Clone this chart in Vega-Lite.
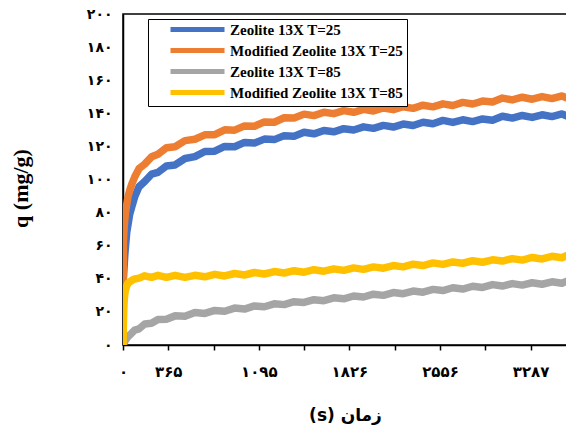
{
  "$schema": "https://vega.github.io/schema/vega-lite/v6.json",
  "width": 444,
  "height": 331,
  "autosize": "none",
  "padding": {"left": 123, "top": 14, "right": 0, "bottom": 80},
  "background": "white",
  "config": {"view": {"stroke": "black", "strokeWidth": 1.5}},
  "data": {"values": [
    {"t": 0, "b": 0, "o": 0, "g": 0, "y": 0},
    {"t": 3, "b": 40, "o": 62, "g": 0.5, "y": 12},
    {"t": 6, "b": 43.8, "o": 66.3, "g": 0.9, "y": 21.4},
    {"t": 10, "b": 48.8, "o": 72, "g": 1.5, "y": 27.1},
    {"t": 15, "b": 55, "o": 76, "g": 2.2, "y": 31.2},
    {"t": 20, "b": 59.3, "o": 80, "g": 3, "y": 33.1},
    {"t": 30, "b": 68, "o": 84.8, "g": 4, "y": 35.8},
    {"t": 40, "b": 72.6, "o": 89.5, "g": 5, "y": 37.3},
    {"t": 54, "b": 79, "o": 93.4, "g": 6, "y": 38.1},
    {"t": 70, "b": 83.2, "o": 97, "g": 7.2, "y": 39},
    {"t": 94, "b": 89.5, "o": 101.5, "g": 9, "y": 39.9},
    {"t": 130, "b": 95.7, "o": 106.7, "g": 9.8, "y": 40.4},
    {"t": 175, "b": 98.8, "o": 109.3, "g": 12.7, "y": 41.8},
    {"t": 230, "b": 103.2, "o": 113.7, "g": 13.1, "y": 40.9},
    {"t": 282, "b": 104.3, "o": 115.3, "g": 15.4, "y": 42.1},
    {"t": 350, "b": 108.2, "o": 119.2, "g": 15.6, "y": 40.9},
    {"t": 420, "b": 108.8, "o": 119.8, "g": 17.6, "y": 42.1},
    {"t": 500, "b": 112.7, "o": 123.5, "g": 17.4, "y": 40.9},
    {"t": 580, "b": 113.8, "o": 124.3, "g": 19.6, "y": 42.1},
    {"t": 660, "b": 116.9, "o": 127.0, "g": 19.1, "y": 41.2},
    {"t": 740, "b": 117.1, "o": 127.1, "g": 20.9, "y": 42.7},
    {"t": 820, "b": 120.0, "o": 130.0, "g": 20.4, "y": 41.7},
    {"t": 900, "b": 119.8, "o": 129.8, "g": 22.3, "y": 43.2},
    {"t": 980, "b": 122.4, "o": 132.4, "g": 21.7, "y": 42.3},
    {"t": 1060, "b": 122.0, "o": 132.2, "g": 23.6, "y": 43.8},
    {"t": 1140, "b": 124.4, "o": 134.8, "g": 23.1, "y": 42.9},
    {"t": 1220, "b": 124.1, "o": 134.6, "g": 24.9, "y": 44.4},
    {"t": 1300, "b": 126.5, "o": 137.3, "g": 24.4, "y": 43.5},
    {"t": 1380, "b": 126.2, "o": 137.1, "g": 26.2, "y": 44.9},
    {"t": 1460, "b": 128.5, "o": 139.5, "g": 25.7, "y": 44.0},
    {"t": 1540, "b": 127.6, "o": 138.6, "g": 27.4, "y": 45.5},
    {"t": 1620, "b": 129.6, "o": 140.6, "g": 26.8, "y": 44.6},
    {"t": 1700, "b": 128.8, "o": 139.8, "g": 28.5, "y": 46.0},
    {"t": 1780, "b": 130.7, "o": 141.6, "g": 27.9, "y": 45.1},
    {"t": 1860, "b": 129.9, "o": 140.6, "g": 29.6, "y": 46.6},
    {"t": 1940, "b": 131.8, "o": 142.4, "g": 29.0, "y": 45.7},
    {"t": 2020, "b": 130.9, "o": 141.4, "g": 30.7, "y": 47.2},
    {"t": 2100, "b": 132.7, "o": 143.2, "g": 30.0, "y": 46.4},
    {"t": 2180, "b": 131.7, "o": 142.2, "g": 31.7, "y": 48.0},
    {"t": 2260, "b": 133.5, "o": 144.0, "g": 31.0, "y": 47.2},
    {"t": 2340, "b": 132.6, "o": 143.0, "g": 32.6, "y": 48.8},
    {"t": 2420, "b": 134.6, "o": 144.9, "g": 31.9, "y": 48.0},
    {"t": 2500, "b": 133.7, "o": 143.9, "g": 33.6, "y": 49.6},
    {"t": 2580, "b": 135.7, "o": 145.7, "g": 32.9, "y": 48.7},
    {"t": 2660, "b": 134.5, "o": 144.7, "g": 34.6, "y": 50.2},
    {"t": 2740, "b": 136.1, "o": 146.6, "g": 33.8, "y": 49.4},
    {"t": 2820, "b": 135.0, "o": 145.6, "g": 35.5, "y": 50.9},
    {"t": 2900, "b": 136.6, "o": 147.4, "g": 34.8, "y": 50.0},
    {"t": 2980, "b": 135.8, "o": 146.8, "g": 36.5, "y": 51.5},
    {"t": 3060, "b": 138.2, "o": 149.2, "g": 35.6, "y": 50.7},
    {"t": 3140, "b": 137.1, "o": 148.1, "g": 37.1, "y": 52.2},
    {"t": 3220, "b": 138.7, "o": 149.7, "g": 36.2, "y": 51.3},
    {"t": 3300, "b": 137.5, "o": 148.5, "g": 37.6, "y": 52.9},
    {"t": 3380, "b": 139.1, "o": 150.1, "g": 36.7, "y": 52.0},
    {"t": 3460, "b": 138.0, "o": 148.9, "g": 38.2, "y": 53.6},
    {"t": 3540, "b": 139.6, "o": 150.5, "g": 37.3, "y": 52.7},
    {"t": 3581, "b": 138.3, "o": 149.3, "g": 38.6, "y": 54.1}
  ]},
  "transform": [{"fold": ["b", "o", "g", "y"], "as": ["k", "q"]}],
  "mark": {"type": "line", "strokeWidth": 7.5, "strokeJoin": "round", "strokeCap": "round", "clip": true},
  "encoding": {
    "x": {
      "field": "t", "type": "quantitative",
      "scale": {"domain": [0, 3581], "nice": false, "zero": false},
      "axis": {
        "values": [0, 365.25, 730.5, 1095.75, 1461, 1826.25, 2191.5, 2556.75, 2922, 3287.25],
        "labelExpr": "datum.value==0?'۰':abs(datum.value-365.25)<1?'۳۶۵':abs(datum.value-1095.75)<1?'۱۰۹۵':abs(datum.value-1826.25)<1?'۱۸۲۶':abs(datum.value-2556.75)<1?'۲۵۵۶':abs(datum.value-3287.25)<1?'۳۲۸۷':''",
        "grid": false,
        "domainColor": "black", "domainWidth": 1.5,
        "tickColor": "black", "tickSize": 5, "tickWidth": 1.5,
        "labelFont": "DejaVu Sans", "labelFontWeight": "bold", "labelFontSize": 15, "labelColor": "black",
        "labelPadding": 14, "labelOverlap": false, "labelFlush": false,
        "title": "(s) زمان",
        "titleFont": "DejaVu Sans", "titleFontSize": 17, "titleFontWeight": "bold", "titleColor": "black",
        "titleY": 70, "titleBaseline": "middle"
      }
    },
    "y": {
      "field": "q", "type": "quantitative",
      "scale": {"domain": [0, 200], "nice": false},
      "axis": {
        "values": [0, 20, 40, 60, 80, 100, 120, 140, 160, 180, 200],
        "labelExpr": "datum.value==0?'۰':datum.value==20?'۲۰':datum.value==40?'۴۰':datum.value==60?'۶۰':datum.value==80?'۸۰':datum.value==100?'۱۰۰':datum.value==120?'۱۲۰':datum.value==140?'۱۴۰':datum.value==160?'۱۶۰':datum.value==180?'۱۸۰':'۲۰۰'",
        "grid": false, "ticks": false,
        "domainColor": "black", "domainWidth": 1.5,
        "labelFont": "DejaVu Sans", "labelFontWeight": "bold", "labelFontSize": 14, "labelColor": "black",
        "labelPadding": 11, "labelOverlap": false, "labelFlush": false,
        "title": "q (mg/g)",
        "titleFont": "Liberation Serif", "titleFontSize": 22, "titleFontWeight": "bold", "titleColor": "black",
        "titleX": -103, "titleY": 174, "titleAngle": -90, "titleAlign": "center", "titleBaseline": "middle"
      }
    },
    "color": {
      "field": "k", "type": "nominal",
      "scale": {"domain": ["b", "o", "g", "y"], "range": ["#4472C4", "#ED7D31", "#A5A5A5", "#FFC000"]},
      "legend": {
        "title": null, "orient": "none", "legendX": 25, "legendY": 5,
        "labelExpr": "datum.value=='b'?'Zeolite 13X T=25':datum.value=='o'?'Modified Zeolite 13X T=25':datum.value=='g'?'Zeolite 13X T=85':'Modified Zeolite 13X T=85'",
        "symbolType": "M-9,0H9", "symbolStrokeWidth": 5, "symbolSize": 36,
        "labelFont": "Liberation Serif", "labelFontWeight": "bold", "labelFontSize": 15, "labelColor": "black",
        "labelLimit": 400,
        "strokeColor": "black", "fillColor": "white", "padding": 3,
        "rowPadding": 0, "symbolOffset": 39, "labelOffset": 25
      }
    }
  }
}
